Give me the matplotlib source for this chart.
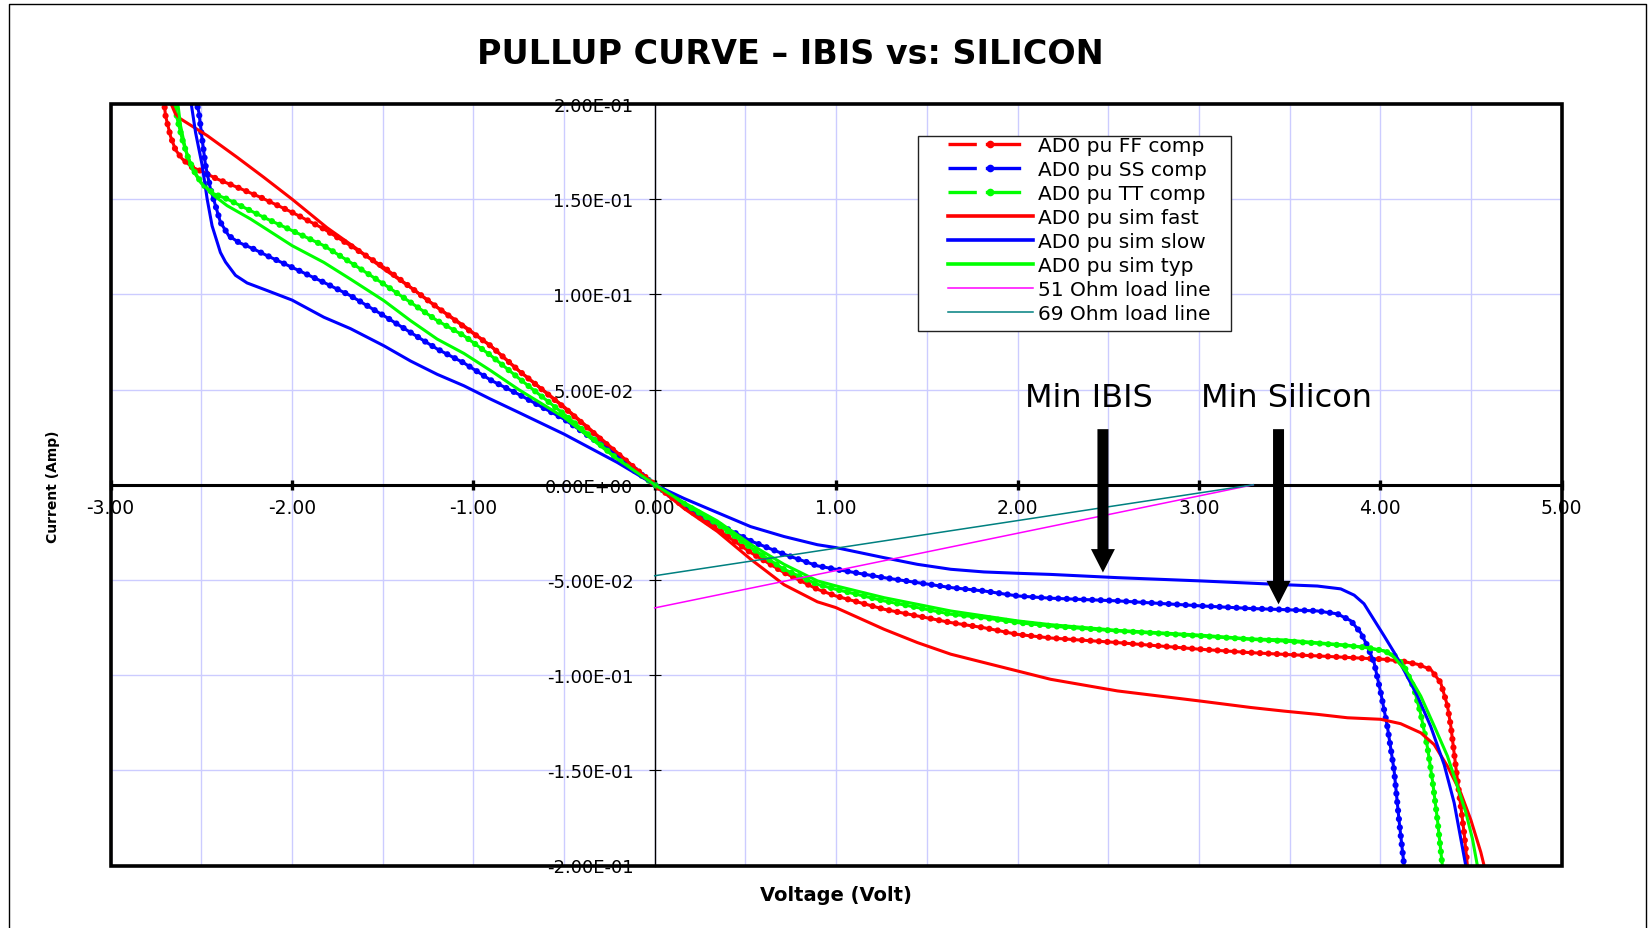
import numpy as np
import matplotlib
matplotlib.use("Agg")
import matplotlib.pyplot as plt
from matplotlib.lines import Line2D
from matplotlib.patches import Rectangle, FancyArrow

# ---------------- data (Voltage V, Current A) ----------------
ff_comp_v = [-2.706, -2.697, -2.669, -2.642, -2.605, -2.550, -2.485, -2.412, -2.302, -2.173,
             -1.999, -1.824, -1.677, -1.493, -1.346, -1.199, -1.052, -0.905, -0.75, -0.5,
             -0.25, 0.0, 0.162, 0.345, 0.529, 0.713, 0.897, 0.998, 1.264, 1.448,
             1.632, 1.815, 1.999, 2.183, 2.551, 3.006, 3.286, 3.469, 3.653, 3.837,
             4.021, 4.113, 4.205, 4.278, 4.333, 4.370, 4.389, 4.407, 4.425, 4.444,
             4.462, 4.480]
ff_comp_i = [0.2027, 0.194, 0.183, 0.176, 0.1712, 0.1668, 0.1641, 0.1606, 0.1563, 0.1510,
             0.1431, 0.1344, 0.1256, 0.1142, 0.1037, 0.0932, 0.0830, 0.0730, 0.0600, 0.0406,
             0.0200, 0.0, -0.0115, -0.0233, -0.0356, -0.0461, -0.0549, -0.0584, -0.0654, -0.0689,
             -0.0724, -0.0751, -0.0786, -0.0805, -0.0829, -0.0864, -0.0882, -0.0891, -0.0899, -0.0908,
             -0.0917, -0.0926, -0.0943, -0.0970, -0.1040, -0.1160, -0.1270, -0.1410, -0.1550, -0.1690,
             -0.1830, -0.2000]

ss_comp_v = [-2.531, -2.513, -2.495, -2.476, -2.449, -2.421, -2.394, -2.348, -2.293, -2.210,
             -2.136, -1.999, -1.824, -1.677, -1.493, -1.346, -1.199, -1.052, -0.905, -0.75,
             -0.5, -0.206, 0.0, 0.162, 0.345, 0.529, 0.713, 0.897, 0.998, 1.264,
             1.448, 1.632, 1.815, 1.999, 2.183, 2.551, 3.006, 3.286, 3.469, 3.653,
             3.763, 3.837, 3.892, 3.929, 3.966, 4.002, 4.039, 4.076, 4.103, 4.131]
ss_comp_i = [0.2027, 0.1957, 0.1817, 0.1677, 0.1554, 0.1466, 0.1379, 0.1308, 0.1273, 0.1238,
             0.1203, 0.1142, 0.1063, 0.0993, 0.0888, 0.0800, 0.0713, 0.0640, 0.0550, 0.0475,
             0.0345, 0.0152, 0.0, -0.0105, -0.0205, -0.0295, -0.0365, -0.0426, -0.0444, -0.0488,
             -0.0514, -0.0540, -0.0558, -0.0584, -0.0596, -0.0610, -0.0636, -0.0650, -0.0656, -0.0663,
             -0.0678, -0.0714, -0.0777, -0.0847, -0.0935, -0.1090, -0.1270, -0.1500, -0.1760, -0.2000]

tt_comp_v = [-2.651, -2.632, -2.605, -2.577, -2.541, -2.495, -2.430, -2.357, -2.265, -2.136,
             -1.999, -1.824, -1.677, -1.493, -1.346, -1.199, -1.052, -0.905, -0.75, -0.5,
             -0.206, 0.0, 0.162, 0.345, 0.529, 0.713, 0.897, 0.998, 1.264, 1.448,
             1.632, 1.815, 1.999, 2.183, 2.551, 3.006, 3.286, 3.469, 3.653, 3.837,
             3.929, 4.021, 4.076, 4.131, 4.186, 4.223, 4.260, 4.287, 4.315, 4.342]
tt_comp_i = [0.2027, 0.1922, 0.1817, 0.1730, 0.1650, 0.1580, 0.1528, 0.1501, 0.1457, 0.1396,
             0.1335, 0.1256, 0.1168, 0.1054, 0.0958, 0.0862, 0.0783, 0.0680, 0.0560, 0.0371,
             0.0135, 0.0, -0.0100, -0.0205, -0.0330, -0.0444, -0.0523, -0.0549, -0.0610, -0.0645,
             -0.0680, -0.0698, -0.0724, -0.0742, -0.0768, -0.0794, -0.0812, -0.0821, -0.0833, -0.0847,
             -0.0856, -0.0873, -0.0895, -0.0952, -0.1070, -0.1205, -0.1380, -0.1550, -0.1760, -0.2000]

sim_fast_v = [-2.678, -2.642, -2.614, -2.467, -2.302, -2.155, -1.999, -1.806, -1.640, -1.493,
              -1.346, -1.199, -1.052, -0.905, -0.75, -0.5, -0.25, 0.0, 0.162, 0.345,
              0.529, 0.713, 0.897, 0.998, 1.264, 1.448, 1.632, 1.815, 1.999, 2.183,
              2.551, 3.006, 3.286, 3.469, 3.653, 3.819, 4.002, 4.112, 4.223, 4.297,
              4.370, 4.444, 4.499, 4.554, 4.572]
sim_fast_i = [0.2027, 0.1948, 0.1922, 0.1834, 0.1720, 0.1615, 0.1500, 0.1350, 0.1238, 0.1133,
              0.1037, 0.0932, 0.0835, 0.0730, 0.0600, 0.0410, 0.0205, 0.0, -0.0125, -0.0245,
              -0.0391, -0.0525, -0.0615, -0.0645, -0.0759, -0.0829, -0.0890, -0.0934, -0.0978, -0.1022,
              -0.1083, -0.1136, -0.1170, -0.1189, -0.1206, -0.1224, -0.1232, -0.1255, -0.1303, -0.1365,
              -0.1478, -0.1620, -0.1760, -0.1930, -0.2000]

sim_slow_v = [-2.559, -2.531, -2.495, -2.467, -2.440, -2.394, -2.366, -2.311, -2.247, -2.136,
              -1.999, -1.824, -1.677, -1.493, -1.346, -1.199, -1.052, -0.905, -0.75, -0.5,
              -0.206, 0.0, 0.162, 0.345, 0.529, 0.713, 0.897, 0.998, 1.264, 1.448,
              1.632, 1.815, 1.999, 2.183, 2.551, 3.006, 3.286, 3.469, 3.653, 3.782,
              3.856, 3.910, 3.975, 4.021, 4.076, 4.131, 4.205, 4.278, 4.352, 4.407,
              4.471]
sim_slow_i = [0.2027, 0.1850, 0.1680, 0.1500, 0.1360, 0.1220, 0.1170, 0.1100, 0.1060, 0.1020,
              0.0970, 0.0880, 0.0820, 0.0730, 0.0650, 0.0580, 0.0520, 0.0450, 0.0380, 0.0266,
              0.0117, 0.0, -0.0072, -0.0146, -0.0220, -0.0272, -0.0315, -0.0330, -0.0383, -0.0418,
              -0.0444, -0.0458, -0.0465, -0.0471, -0.0488, -0.0505, -0.0517, -0.0525, -0.0532, -0.0547,
              -0.0580, -0.0625, -0.0724, -0.0794, -0.0880, -0.0975, -0.1110, -0.1270, -0.1470, -0.1670,
              -0.2000]

sim_typ_v = [-2.632, -2.614, -2.587, -2.550, -2.504, -2.430, -2.357, -2.228, -2.136, -1.999,
             -1.824, -1.677, -1.493, -1.346, -1.199, -1.052, -0.905, -0.75, -0.5, -0.206,
             0.0, 0.162, 0.345, 0.529, 0.713, 0.897, 0.998, 1.264, 1.448, 1.632,
             1.815, 1.999, 2.183, 2.551, 3.006, 3.286, 3.469, 3.653, 3.819, 3.929,
             4.021, 4.076, 4.149, 4.223, 4.297, 4.370, 4.425, 4.471, 4.508, 4.535]
sim_typ_i = [0.2027, 0.1887, 0.1764, 0.1659, 0.1589, 0.1519, 0.1466, 0.1396, 0.1340, 0.1256,
             0.1168, 0.1080, 0.0967, 0.0862, 0.0765, 0.0690, 0.0600, 0.0500, 0.0354, 0.0135,
             0.0, -0.0094, -0.0190, -0.0313, -0.0418, -0.0505, -0.0531, -0.0593, -0.0628, -0.0663,
             -0.0689, -0.0715, -0.0735, -0.0765, -0.0790, -0.0810, -0.0815, -0.0830, -0.0843, -0.0856,
             -0.0873, -0.0905, -0.0988, -0.1110, -0.1267, -0.1425, -0.1583, -0.1720, -0.1860, -0.2000]

load51_v = [0.0, 3.3]
load51_i = [-0.0647, 0.0]
load69_v = [0.0, 3.3]
load69_i = [-0.0478, 0.0]

x_ticks = [-3, -2, -1, 0, 1, 2, 3, 4, 5]
x_ticklabels = ["-3.00", "-2.00", "-1.00", "0.00", "1.00", "2.00", "3.00", "4.00", "5.00"]
y_ticks = [0.2, 0.15, 0.1, 0.05, 0.0, -0.05, -0.1, -0.15, -0.2]
y_ticklabels = ["2.00E-01", "1.50E-01", "1.00E-01", "5.00E-02", "0.00E+00",
                "-5.00E-02", "-1.00E-01", "-1.50E-01", "-2.00E-01"]

labels = ["AD0 pu FF comp", "AD0 pu SS comp", "AD0 pu TT comp", "AD0 pu sim fast",
          "AD0 pu sim slow", "AD0 pu sim typ", "51 Ohm load line", "69 Ohm load line"]

# annotation arrows: (x, top, tip)
arrow_ibis = (2.471, 0.0292, -0.0461)
arrow_silicon = (3.439, 0.0292, -0.0628)

RED, BLUE, GREEN = "#ff0000", "#0000ff", "#00ff00"
MAGENTA, TEAL = "#ff00ff", "#008080"

# ---------------- figure ----------------
plt.rcParams["font.family"] = ["DejaVu Sans"]
W, H = 1648, 929
fig = plt.figure(figsize=(W / 100, H / 100), dpi=100)
fig.patch.set_facecolor("white")

ax_l, ax_r, ax_t, ax_b = 110.5, 1561.7, 105.0, 866.5
ax = fig.add_axes([ax_l / W, 1 - ax_b / H, (ax_r - ax_l) / W, (ax_b - ax_t) / H])
ax.set_xlim(-3, 5)
ax.set_ylim(-0.2, 0.2)

# grid
ax.set_xticks(np.arange(-3, 5.01, 0.5), minor=True)
ax.grid(True, which="both", color="#ccccff", lw=1.0)
ax.set_axisbelow(True)

# spines through origin
for s in ("top", "right"):
    ax.spines[s].set_visible(False)
ax.spines["left"].set_position(("data", 0))
ax.spines["bottom"].set_position(("data", 0))
ax.spines["left"].set_linewidth(1.0)
ax.spines["bottom"].set_linewidth(2.2)
ax.spines["left"].set_zorder(2.5)
ax.spines["bottom"].set_zorder(2.5)

ax.set_xticks(x_ticks)
ax.set_xticklabels(x_ticklabels)
ax.set_yticks(y_ticks)
ax.set_yticklabels(y_ticklabels)
ax.tick_params(axis="x", which="major", direction="inout", length=7.7, width=2.4,
               pad=5.5, labelsize=13.5)
ax.tick_params(axis="x", which="minor", length=0)
ax.tick_params(axis="y", direction="inout", length=8.6, width=0.8, pad=11, labelsize=13)

# outer plot border
ax.add_patch(Rectangle((0, 0), 1, 1, transform=ax.transAxes, fill=False,
                       ec="black", lw=2.6, zorder=10, clip_on=False))

# ---------------- series ----------------
def comp(v, i, c):
    ax.plot(v, i, color=c, lw=2.2, zorder=3, solid_joinstyle="round")
    ax.plot(v, i, color=c, lw=4.5, linestyle=(0, (0.01, 1.35)),
            dash_capstyle="round", zorder=3)

comp(ff_comp_v, ff_comp_i, RED)
comp(ss_comp_v, ss_comp_i, BLUE)
comp(tt_comp_v, tt_comp_i, GREEN)
ax.plot(sim_fast_v, sim_fast_i, color=RED, lw=2.2, zorder=3)
ax.plot(sim_slow_v, sim_slow_i, color=BLUE, lw=2.2, zorder=3)
ax.plot(sim_typ_v, sim_typ_i, color=GREEN, lw=2.2, zorder=3)
ax.plot(load51_v, load51_i, color=MAGENTA, lw=1.1, zorder=3)
ax.plot(load69_v, load69_i, color=TEAL, lw=1.1, zorder=3)

# ---------------- arrows + text ----------------
for (xa, ytop, ytip) in (arrow_ibis, arrow_silicon):
    ax.add_patch(FancyArrow(xa, ytop, 0, ytip - ytop, width=0.0606, head_width=0.132,
                            head_length=0.0123, length_includes_head=True,
                            color="black", lw=0, zorder=6))
ax.text(2.040, 0.0415, "Min IBIS", fontsize=23, ha="left", va="baseline", zorder=7)
ax.text(3.012, 0.0415, "Min Silicon", fontsize=23, ha="left", va="baseline", zorder=7)

# ---------------- legend ----------------
fs = 14.5
fs_px = fs * 100 / 72
comp_ls = (0, (8.5, 2.7, 10.6, 20))
handles = [
    Line2D([0], [0], color=RED, lw=2.4, linestyle=comp_ls, marker="o", ms=5.5, mew=0),
    Line2D([0], [0], color=BLUE, lw=2.4, linestyle=comp_ls, marker="o", ms=5.5, mew=0),
    Line2D([0], [0], color=GREEN, lw=2.4, linestyle=comp_ls, marker="o", ms=5.5, mew=0),
    Line2D([0], [0], color=RED, lw=2.6),
    Line2D([0], [0], color=BLUE, lw=2.6),
    Line2D([0], [0], color=GREEN, lw=2.6),
    Line2D([0], [0], color=MAGENTA, lw=1.1),
    Line2D([0], [0], color=TEAL, lw=1.1),
]
ax.add_patch(Rectangle((918.3 / W, 1 - 331.7 / H), 312.4 / W, 195.0 / H,
                       transform=fig.transFigure, fc="white", ec="#222222", lw=1.0,
                       zorder=4.5, clip_on=False))
leg = ax.legend(handles, labels, loc="upper left",
                bbox_to_anchor=(947.7 / W, 1 - 137.5 / H), bbox_transform=fig.transFigure,
                frameon=False, borderpad=0, borderaxespad=0, fontsize=fs,
                handlelength=85 / fs_px, handletextpad=5.6 / fs_px, labelspacing=0.245,
                numpoints=1)
leg.set_zorder(5)

# ---------------- titles / labels ----------------
fig.text(790.3 / W, 1 - 64.5 / H, "PULLUP CURVE \u2013 IBIS vs: SILICON", fontsize=24,
         fontweight="bold", ha="center", va="baseline")
fig.text(836 / W, 1 - 896 / H, "Voltage (Volt)", fontsize=14, fontweight="bold",
         ha="center", va="center")
fig.text(52.5 / W, 1 - 487 / H, "Current (Amp)", fontsize=10, fontweight="bold",
         rotation=90, ha="center", va="center")

# figure frame (left, top, right)
fig.add_artist(Line2D([8.5 / W, 8.5 / W, 1645.5 / W, 1645.5 / W],
                      [0, 1 - 5 / H, 1 - 5 / H, 0], transform=fig.transFigure,
                      color="black", lw=1.0))

fig.savefig("out.png", dpi=100)
